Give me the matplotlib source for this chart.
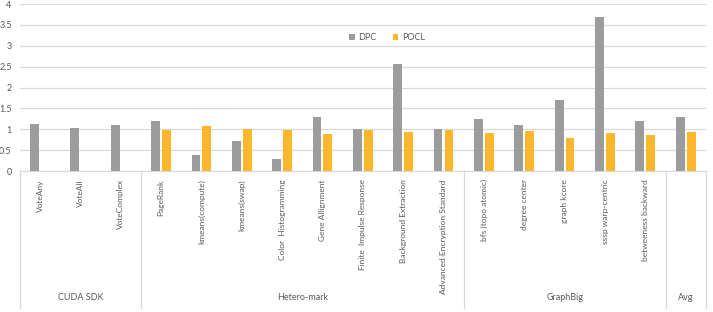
import matplotlib.pyplot as plt
from matplotlib.transforms import blended_transform_factory

DPC_COLOR = "#9c9c9c"
POCL_COLOR = "#fdb72c"
GRID_COLOR = "#d9d9d9"
TEXT_COLOR = "#595959"

benchmarks = [
    "VoteAny", "VoteAll", "VoteComplex",
    "PageRank", "kmeans(compute)", "kmeans(swap)", "Color  Histogramming",
    "Gene Allignment", "Finite  Impulse Response", "Background Extraction",
    "Advanced Encryption Standard",
    "bfs (topo atomic)", "degree center", "graph kcore", "sssp warp-centric",
    "betweeness backward",
    "",
]
groups = ["CUDA SDK", "Hetero-mark", "GraphBig", "Avg"]
group_sizes = [3, 8, 5, 1]

dpc = [1.13, 1.03, 1.10,
       1.20, 0.39, 0.72, 0.29, 1.29, 1.00, 2.56, 1.00,
       1.25, 1.10, 1.70, 3.68, 1.20,
       1.29]
pocl = [None, None, None,
        0.98, 1.08, 1.00, 0.98, 0.89, 0.98, 0.93, 0.98,
        0.91, 0.96, 0.79, 0.91, 0.86,
        0.93]

plt.rcParams["font.family"] = ["Lato", "DejaVu Sans"]

fig = plt.figure(figsize=(7.13, 3.12), dpi=100)
ax = fig.add_axes([20 / 713, 1 - 171 / 312, 686 / 713, 167 / 312])

x = list(range(len(benchmarks)))
width = 0.22
ax.bar([i - 0.14 for i in x], dpc, width, color=DPC_COLOR, label="DPC", zorder=3)
pocl_x = [i + 0.13 for i, v in zip(x, pocl) if v is not None]
pocl_v = [v for v in pocl if v is not None]
ax.bar(pocl_x, pocl_v, width, color=POCL_COLOR, label="POCL", zorder=3)

ax.set_xlim(-0.5, len(benchmarks) - 0.5)
ax.set_ylim(0, 4)
ax.set_yticks([0, 0.5, 1, 1.5, 2, 2.5, 3, 3.5, 4])
ax.set_yticklabels(["0", "0.5", "1", "1.5", "2", "2.5", "3", "3.5", "4"])
ax.yaxis.grid(True, color=GRID_COLOR, linewidth=0.9, zorder=0)
ax.tick_params(axis="y", length=0, labelsize=6.5, labelcolor=TEXT_COLOR, pad=6)

ax.set_xticks(x)
ax.set_xticklabels(benchmarks, rotation=90, va="top", ha="center")
ax.tick_params(axis="x", length=0, labelsize=6.0, labelcolor=TEXT_COLOR, pad=6)

for side in ["left", "right", "top"]:
    ax.spines[side].set_visible(False)
ax.spines["bottom"].set_color(GRID_COLOR)

# group separators and labels under the axis
trans = blended_transform_factory(ax.transData, ax.transAxes)
bottom = -137 / 167
edges = [-0.5]
for size in group_sizes:
    edges.append(edges[-1] + size)
for e in edges:
    ax.plot([e, e], [0, bottom], transform=trans, color=GRID_COLOR,
            linewidth=0.9, clip_on=False)
for name, lo, hi in zip(groups, edges[:-1], edges[1:]):
    ax.text((lo + hi) / 2, -126 / 167, name, transform=trans, ha="center",
            va="center", fontsize=6.5, color=TEXT_COLOR)

leg = ax.legend(loc="center", bbox_to_anchor=(0.535, 0.80), ncol=2, frameon=False,
                fontsize=6.5, handlelength=0.6, handleheight=0.6,
                columnspacing=1.8, handletextpad=0.4)
for t in leg.get_texts():
    t.set_color(TEXT_COLOR)

fig.savefig("out.png", dpi=100)
